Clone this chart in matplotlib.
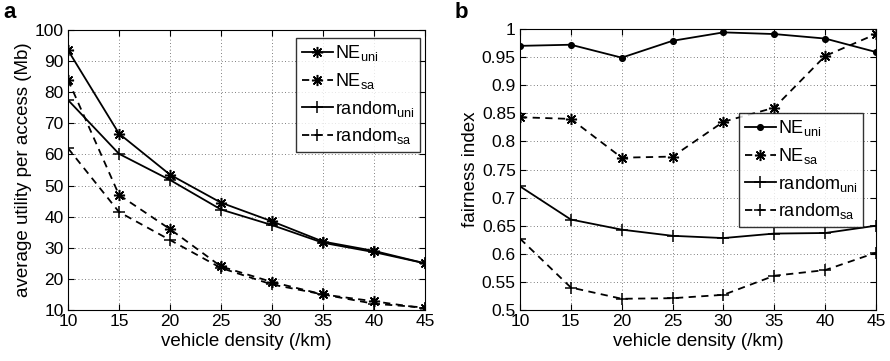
import matplotlib.pyplot as plt

plt.rcParams["font.family"] = ["Liberation Sans", "DejaVu Sans"]

density = [10, 15, 20, 25, 30, 35, 40, 45]

# panel a: average utility per access (Mb)
util_ne_uni = [93.5, 66.7, 53.5, 44.5, 38.5, 32.0, 29.0, 25.0]
util_ne_sa = [84.0, 47.0, 36.0, 24.0, 19.0, 15.0, 12.8, 10.5]
util_rand_uni = [77.5, 60.2, 51.8, 42.3, 37.3, 31.6, 28.6, 25.0]
util_rand_sa = [62.0, 41.5, 32.5, 23.5, 18.2, 15.0, 12.0, 10.8]

# panel b: fairness index
fair_ne_uni = [0.970, 0.972, 0.949, 0.979, 0.994, 0.991, 0.983, 0.959]
fair_ne_sa = [0.843, 0.840, 0.771, 0.773, 0.835, 0.860, 0.952, 0.991]
fair_rand_uni = [0.720, 0.661, 0.643, 0.632, 0.628, 0.636, 0.637, 0.650]
fair_rand_sa = [0.627, 0.540, 0.520, 0.521, 0.527, 0.561, 0.571, 0.602]

labels = [r"NE$_{\mathregular{uni}}$", r"NE$_{\mathregular{sa}}$",
          r"random$_{\mathregular{uni}}$", r"random$_{\mathregular{sa}}$"]

ASTER = (8, 2, 0)


def style_axes(ax):
    ax.set_xlim(10, 45)
    ax.set_xticks(density)
    ax.grid(True, linestyle=(0, (1, 3)), color="#555555", linewidth=0.6)
    ax.tick_params(direction="in", top=True, right=True, labelsize=12.5, length=4, pad=3)
    for s in ax.spines.values():
        s.set_linewidth(0.8)
    ax.set_xlabel("vehicle density (/km)", fontsize=13.5, labelpad=3)


def add_legend(ax, x_right, y_top):
    leg = ax.legend(loc="upper right", fontsize=13, fancybox=False, edgecolor="black",
                    handlelength=1.7, handletextpad=0.15, labelspacing=0.42,
                    borderpad=0.3, borderaxespad=0,
                    bbox_to_anchor=(x_right / 890, 1 - y_top / 361),
                    bbox_transform=fig.transFigure)
    leg.get_frame().set_linewidth(1.0)


fig = plt.figure(figsize=(8.9, 3.61), dpi=100)
ax_a = fig.add_axes([68 / 890, 1 - 310 / 361, 357 / 890, 280 / 361])
ax_b = fig.add_axes([520 / 890, 1 - 310 / 361, 356 / 890, 281 / 361])

kw = dict(color="black", linewidth=1.3, markersize=8, markeredgewidth=1.1)
ax_a.plot(density, util_ne_uni, "-", marker=ASTER, label=labels[0], **kw)
ax_a.plot(density, util_ne_sa, "--", marker=ASTER, label=labels[1], dashes=(4, 3), **kw)
ax_a.plot(density, util_rand_uni, "-", marker="+", label=labels[2], **kw)
ax_a.plot(density, util_rand_sa, "--", marker="+", label=labels[3], dashes=(4, 3), **kw)
ax_a.set_ylim(10, 100)
ax_a.set_yticks(range(10, 101, 10))
ax_a.set_ylabel("average utility per access (Mb)", fontsize=13.5, labelpad=2)
style_axes(ax_a)
add_legend(ax_a, 420, 38)

ax_b.plot(density, fair_ne_uni, "-", marker="o", label=labels[0],
          **{**kw, "markersize": 4})
ax_b.plot(density, fair_ne_sa, "--", marker=ASTER, label=labels[1], dashes=(4, 3), **kw)
ax_b.plot(density, fair_rand_uni, "-", marker="+", label=labels[2], **kw)
ax_b.plot(density, fair_rand_sa, "--", marker="+", label=labels[3], dashes=(4, 3), **kw)
ax_b.set_ylim(0.5, 1.0)
ax_b.set_yticks([0.5, 0.55, 0.6, 0.65, 0.7, 0.75, 0.8, 0.85, 0.9, 0.95, 1.0])
ax_b.set_yticklabels(["0.5", "0.55", "0.6", "0.65", "0.7", "0.75", "0.8",
                      "0.85", "0.9", "0.95", "1"])
ax_b.set_ylabel("fairness index", fontsize=13.5, labelpad=2)
style_axes(ax_b)
add_legend(ax_b, 863, 113)

fig.text(3 / 890, 1 - 2 / 361, "a", fontsize=16, fontweight="bold", va="top")
fig.text(455 / 890, 1 - 2 / 361, "b", fontsize=16, fontweight="bold", va="top")

fig.savefig("out.png", dpi=100)
